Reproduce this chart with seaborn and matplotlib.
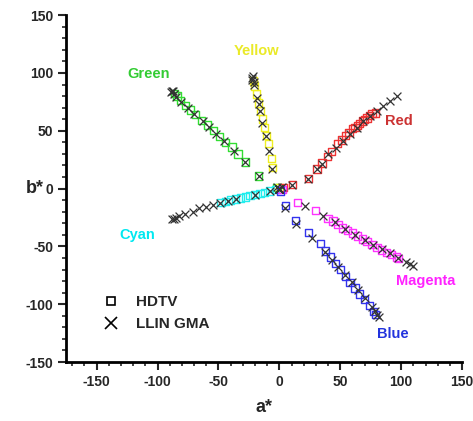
import numpy as np
import pandas as pd
import matplotlib
matplotlib.use("Agg")
import matplotlib.pyplot as plt
import seaborn as sns
from matplotlib.lines import Line2D
from matplotlib.ticker import MultipleLocator

# HDTV (squares) and LLIN GMA (crosses) points per colour ramp, (a*, b*)
green_hdtv_a = [-2, -17, -28, -34, -39, -44, -49, -54, -59, -64, -69, -73, -77, -81, -84, -86]
green_hdtv_b = [1, 11, 23, 30, 36, 40, 45, 50, 55, 59, 64, 68, 72, 76, 80, 82]
green_gma_a = [0, -2, -17, -27.9, -36.9, -45.1, -51.7, -57.4, -63.1, -69.7, -75.4, -80.4, -84.5, -86.9, -88.6, -88, -87.5]
green_gma_b = [0, 1, 11, 23.3, 32.8, 41.4, 47.4, 53.4, 58.6, 64.7, 69.8, 75.0, 79.3, 81.9, 83.6, 84.5, 84]

yellow_hdtv_a = [0, -5.7, -6.6, -9, -10.7, -12.3, -13.9, -15.6, -17.2, -18.9, -20.5, -21.3]
yellow_hdtv_b = [1, 18, 25.9, 38.8, 45.7, 52.6, 60.3, 67.2, 74, 81.9, 88.8, 93]
yellow_gma_a = [0, -5.7, -8.2, -10.7, -13.9, -15.6, -16.4, -18.0, -20.5, -21, -22.1, -21.5, -22.5]
yellow_gma_b = [0, 17.2, 32.8, 45.7, 56.9, 67.2, 73.3, 78.4, 89.6, 92, 95.7, 97, 94]

red_hdtv_a = [3, 10.7, 23.8, 31, 35, 39.4, 43, 47.6, 51, 54, 57, 59.9, 62, 64, 66, 68, 70, 72, 74, 76, 78.7]
red_hdtv_b = [1, 3.4, 8.6, 17, 22, 28, 32, 38.8, 42, 45.7, 48.5, 51.7, 53, 54.3, 56.5, 58.6, 59.8, 61, 63, 64.7, 65.5]
red_gma_a = [0, 2, 10.7, 23.8, 31.2, 35.3, 40.2, 46.7, 52.5, 58.2, 64.0, 68.9, 74.6, 80.4, 85.3, 91.0, 96.8]
red_gma_b = [0, 1, 3.4, 8.6, 17.2, 21.6, 30.2, 35.3, 41.4, 47.4, 52.6, 58.6, 62.9, 67.2, 71.5, 75.9, 80.2]

cyan_hdtv_a = [-3, -8, -12, -16, -20, -24, -28, -32, -36, -40, -44, -48]
cyan_hdtv_b = [-1, -2.2, -3.2, -4.2, -5.2, -6.2, -7.2, -8, -9, -10, -11, -12.2]
cyan_gma_a = [0, -7.4, -19.7, -35.3, -42.6, -48.4, -54.1, -59.9, -65.6, -71.3, -77.1, -82.8, -86.9, -85, -88]
cyan_gma_b = [0, -1.7, -5.2, -8.6, -10.3, -12.1, -13.8, -15.5, -17.2, -19.8, -21.6, -24.1, -25.9, -25, -26.5]

magenta_hdtv_a = [2, 14.8, 29.5, 40, 44, 48, 52, 56, 60, 64, 68, 72, 76, 80, 84, 88, 92, 96, 98]
magenta_hdtv_b = [-1, -12.1, -19, -26, -28, -31, -34, -36, -38.5, -41, -43.5, -46, -48.5, -51, -53, -55, -57, -59, -60.3]
magenta_gma_a = [0, 21.3, 36.1, 45.9, 54.1, 62.3, 70.5, 77.1, 84.5, 91.0, 97.6, 104.1, 107, 109.9]
magenta_gma_b = [0, -14.7, -23.3, -29.3, -35.3, -39.7, -44.8, -49.1, -52.6, -56.0, -60.3, -63.8, -65.5, -67.2]

blue_hdtv_a = [1, 4.9, 13.1, 23.8, 33.6, 38, 42, 46, 50, 54, 58, 62, 66, 70, 74, 77, 79]
blue_hdtv_b = [-2, -14.7, -27.6, -37.9, -47.4, -54, -59, -65, -70, -76, -81, -86, -91, -96, -101, -106, -109]
blue_gma_a = [0, 4.9, 13.9, 27.1, 37.7, 43.5, 48.4, 54.1, 59.9, 64.8, 70.5, 76.3, 78.5, 80.4, 81.5]
blue_gma_b = [0, -17.2, -30.2, -43.1, -55.2, -62.1, -68.1, -75.0, -81.0, -87.9, -94.8, -102.6, -106, -109.5, -111]

ramps = {
    "Green": (green_hdtv_a, green_hdtv_b, green_gma_a, green_gma_b),
    "Yellow": (yellow_hdtv_a, yellow_hdtv_b, yellow_gma_a, yellow_gma_b),
    "Red": (red_hdtv_a, red_hdtv_b, red_gma_a, red_gma_b),
    "Cyan": (cyan_hdtv_a, cyan_hdtv_b, cyan_gma_a, cyan_gma_b),
    "Magenta": (magenta_hdtv_a, magenta_hdtv_b, magenta_gma_a, magenta_gma_b),
    "Blue": (blue_hdtv_a, blue_hdtv_b, blue_gma_a, blue_gma_b),
}
marker_colors = {"Green": "#33dd33", "Yellow": "#f0f020", "Red": "#ee3333",
                 "Cyan": "#22eeee", "Magenta": "#ff33ff", "Blue": "#3333ee"}
text_colors = {"Green": "#33cc33", "Yellow": "#eaea28", "Red": "#cc3333",
               "Cyan": "#00e8f0", "Magenta": "#ff22ff", "Blue": "#2233dd"}
label_pos = {"Green": (-107, 99), "Yellow": (-19, 119), "Red": (98, 58.6),
             "Cyan": (-117, -40.5), "Magenta": (120, -80), "Blue": (93, -126)}

sns.set_style("white")
plt.rcParams['font.family'] = ['Liberation Sans', 'DejaVu Sans']
plt.rcParams['font.weight'] = 'bold'
plt.rcParams['axes.unicode_minus'] = False

fig = plt.figure(figsize=(4.73, 4.21), dpi=100)
ax = fig.add_axes([0.14, 0.14, 0.837, 0.824])

for name, (ha, hb, ga, gb) in ramps.items():
    sq = pd.DataFrame({"a": ha, "b": hb})
    sns.scatterplot(data=sq, x="a", y="b", ax=ax, marker="s", s=28,
                    facecolors="none", edgecolor=marker_colors[name], linewidth=1.0, zorder=2)
for name, (ha, hb, ga, gb) in ramps.items():
    xs = pd.DataFrame({"a": ga, "b": gb})
    sns.scatterplot(data=xs, x="a", y="b", ax=ax, marker="x", s=32,
                    color="#333333", linewidth=0.9, zorder=3)

for name, (tx, ty) in label_pos.items():
    ax.text(tx, ty, name, color=text_colors[name], fontsize=10.5, fontweight="bold",
            ha="center", va="center")

ax.set_xlim(-175, 150)
ax.set_ylim(-150, 150)
ax.xaxis.set_major_locator(MultipleLocator(50))
ax.yaxis.set_major_locator(MultipleLocator(50))
ax.xaxis.set_minor_locator(MultipleLocator(10))
ax.yaxis.set_minor_locator(MultipleLocator(10))
ax.tick_params(which="major", direction="out", length=6, width=1.5, labelsize=10,
               left=True, bottom=True)
ax.tick_params(which="minor", direction="out", length=3, width=1.2, left=True, bottom=True)
for lab in ax.get_xticklabels() + ax.get_yticklabels():
    lab.set_fontweight("bold")
sns.despine(ax=ax)
for sp in ("left", "bottom"):
    ax.spines[sp].set_linewidth(2)
    ax.spines[sp].set_color("black")

ax.set_xlabel("a*", fontsize=13, fontweight="bold", va="center")
ax.set_ylabel("b*", fontsize=13, fontweight="bold", rotation=0, va="center")
ax.xaxis.set_label_coords(0.5, -0.13)
ax.yaxis.set_label_coords(-0.08, 0.5)

handles = [Line2D([], [], marker="s", linestyle="none", markerfacecolor="none",
                  markeredgecolor="black", markeredgewidth=1.2, markersize=6),
           Line2D([], [], marker="x", linestyle="none", color="black",
                  markeredgewidth=1.2, markersize=8)]
ax.legend(handles, ["HDTV", "LLIN GMA"], loc="lower left", bbox_to_anchor=(0.04, 0.05),
          frameon=False, prop={"weight": "bold", "size": 11}, handletextpad=0.6,
          labelspacing=0.5)

fig.savefig("out.png", dpi=100)
